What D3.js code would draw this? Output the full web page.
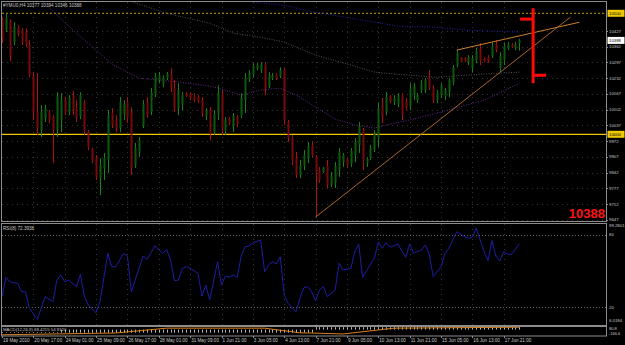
<!DOCTYPE html>
<html>
<head>
<meta charset="utf-8">
<script src="https://cdnjs.cloudflare.com/ajax/libs/d3/7.8.5/d3.min.js"></script>
<style>
  body { margin: 0; background: #000; }
  svg { display: block; }
  text { font-family: "Liberation Sans", Arial, sans-serif; }
</style>
</head>
<body>
<div id="chart"></div>
<script>
// ---- price bars (H4) ----
const opens = [10471,10430,10463,10381,10438,10430,10422,10372,10240,10092,
  10017,10067,10092,10071,10017,10059,10141,10092,10158,10108,
  10075,10133,10009,9939,9902,9819,9861,9894,10088,10059,
  10026,10079,10133,10092,9873,9927,10034,10133,10092,10166,
  10224,10207,10232,10249,10191,10108,10125,10170,10166,10158,
  10154,10141,10075,10100,10009,10079,10166,10017,10063,10034,
  10071,10079,10141,10228,10249,10273,10265,10286,10199,10232,
  10244,10240,10265,10051,9984,9902,9832,9869,9902,9951,
  9906,9852,9844,9869,9791,9799,9852,9885,9898,9877,
  9914,9956,10017,9881,9902,9935,9984,10121,10092,10158,
  10133,10125,10158,10137,10117,10162,10141,10183,10183,10232,
  10191,10141,10162,10158,10174,10216,10286,10319,10315,10298,
  10273,10306,10352,10315,10319,10323,10372,10273,10306,10356,
  10372,10356,10377];
const highs = [10484,10500,10476,10463,10451,10438,10438,10389,10257,10253,
  10121,10121,10100,10079,10174,10170,10154,10162,10178,10141,
  10174,10141,10017,9943,9914,9902,9923,10100,10108,10079,
  10154,10141,10154,10112,9964,9989,10141,10154,10191,10253,
  10257,10244,10257,10273,10224,10211,10174,10174,10174,10170,
  10162,10154,10108,10112,10100,10203,10183,10071,10071,10088,
  10079,10170,10253,10265,10294,10294,10298,10298,10257,10253,
  10253,10277,10273,10059,9997,9927,9894,9935,9968,9968,
  9914,9865,9865,9894,9844,9885,9943,9923,9902,9943,
  9984,10051,10026,9906,9956,10017,10129,10150,10174,10162,
  10162,10170,10170,10150,10211,10211,10170,10224,10232,10265,
  10203,10183,10211,10191,10232,10286,10348,10319,10319,10327,
  10327,10356,10377,10319,10327,10381,10389,10339,10377,10381,
  10377,10381,10394];
const lows = [10377,10422,10302,10368,10405,10368,10360,10236,10059,9997,
  9989,10051,10046,9881,9989,10009,10079,10079,10079,10051,
  10063,9997,9935,9881,9811,9749,9811,9840,10026,10009,
  10009,10059,10046,9832,9861,9906,10026,10067,10079,10154,
  10211,10195,10224,10174,10092,10079,10100,10154,10141,10133,
  10129,10071,10059,9976,9997,10059,9997,9997,10038,10009,
  10030,10067,10088,10216,10236,10265,10253,10162,10191,10224,
  10224,10232,10038,9968,9873,9819,9819,9852,9881,9906,
  9658,9799,9840,9778,9782,9778,9824,9865,9865,9865,
  9885,9923,9852,9865,9894,9927,9947,10046,10079,10129,
  10121,10112,10059,10100,10100,10141,10129,10170,10170,10183,
  10129,10129,10150,10141,10154,10203,10277,10298,10298,10286,
  10257,10294,10286,10298,10294,10315,10339,10257,10286,10348,
  10356,10348,10346];
const closes = [10397,10480,10327,10443,10414,10381,10372,10244,10092,10026,
  10092,10108,10059,10017,10158,10141,10092,10150,10100,10067,
  10162,10017,9947,9894,9824,9873,9902,10079,10038,10026,
  10133,10125,10067,9861,9943,9976,10125,10079,10174,10240,
  10244,10232,10249,10191,10108,10183,10162,10158,10150,10141,
  10137,10088,10100,10001,10084,10174,10026,10059,10046,10075,
  10042,10150,10232,10253,10282,10286,10290,10191,10244,10244,
  10232,10265,10059,9984,9894,9832,9873,9914,9951,9914,
  9844,9811,9861,9791,9828,9869,9927,9914,9873,9931,
  9968,10034,9894,9898,9943,10001,10108,10067,10154,10137,
  10150,10158,10084,10108,10191,10199,10162,10211,10224,10191,
  10141,10170,10199,10183,10224,10277,10339,10302,10302,10319,
  10315,10344,10306,10302,10302,10364,10348,10323,10364,10372,
  10360,10372,10388];

// ---- moving averages (bar index, value) ----
const maPurpleBars = [10,19,24,28,35,45,53,56,61,66,71,76,80,85,90,95,99,104,112,123,132];
const maPurpleVals = [10554,10418,10348,10290,10232,10216,10199,10187,10162,10183,10191,10154,10112,10063,10038,10026,10042,10059,10092,10141,10211];
const maGrayBars = [32,42,53,59,66,72,80,89,95,104,111,123,132];
const maGrayVals = [10554,10500,10459,10418,10401,10381,10327,10286,10257,10244,10236,10249,10257];
const maBlueBars = [58,64,72,80,89,101,110,119,132];
const maBlueVals = [10562,10546,10533,10504,10480,10447,10443,10430,10422];

// ---- drawn objects ----
const levelDashed = 10500;
const levelSolid = 10000;
const supportLine = [[80, 9658], [145, 10484]];
const upperLine = [[116, 10348], [147.3, 10463]];
const projBar = { bar: 135.5, open: 10476, high: 10521, low: 10211, close: 10244 };

// ---- axes ----
const priceTicks = [10427,10362,10297,10232,10167,10102,10037,9972,9907,9842,9777,9712,9647];
const timeBars = [0,8,16,24,32,40,48,56,64,72,80,88,96,104,112,120,128];
const timeLabels = ["19 May 2010","20 May 17:00","24 May 01:00","25 May 09:00","26 May 17:00",
  "28 May 01:00","31 May 09:00","1 Jun 21:00","3 Jun 05:00","4 Jun 13:00","7 Jun 21:00",
  "9 Jun 05:00","10 Jun 13:00","11 Jun 21:00","15 Jun 05:00","16 Jun 13:00","17 Jun 21:00"];

// ---- RSI(8) ----
const rsiBars = [0,1,2,3,4,5,6,7,9,11,13,14,15,16,17,19,20,21,22,24,25,27,28,29,31,32,33,36,37,39,41,42,43,44,45,46,47,48,50,51,52,53,55,56,57,58,59,60,61,62,63,64,66,67,68,69,70,71,72,73,75,76,77,78,79,80,81,82,83,85,86,87,89,90,91,92,95,96,97,98,99,101,103,104,105,107,108,109,110,112,113,114,116,118,119,120,121,123,124,125,126,127,128,129,130,132];
const rsiVals = [28.5,44.6,40.9,40.1,39.6,32.6,32.6,18.9,9.8,28.5,24.4,42.3,46.5,40.9,42.3,36.8,47.1,29.1,21.6,15.3,24.4,64.4,53.3,53.3,64.4,62.2,32.6,62.2,59.5,70.5,64.4,67.7,58.9,41.8,42.3,52,53.3,52,47.9,29.1,38.2,25.8,57.5,38.2,45.6,44.6,46.5,44.6,61.6,69.9,70.5,73.2,75.4,49.2,54.8,57.5,55.6,61.6,29.9,23,16.1,27.2,36,36.8,32.6,25.2,34.1,36.8,28.5,34.1,56.2,50.6,52,65.8,72.1,44.6,60.3,74,68.6,73.2,69.4,72.1,61.1,72.1,64.4,67.2,71.3,63.9,45.1,53.3,64.4,68.6,82.3,78.2,76.9,77.7,85.1,65.8,58.3,74.9,62.2,58.1,65.8,63.6,63.6,72.3938];
const rsiLabels = ["99.2801", "80", "20", "6.0184"];

// ---- MACD(12,26,9) ----
const macdHist = [-95,-95,-95,-95,-95,-95,-95,-95,-95,-95,-95,-95,-95,-95,-95,-95,-95,-95,-95,-95,
  -95,-95,-95,-95,-95,-95,-95,-95,-95,-95,-95,-95,-95,-95,-95,-95,-95,-95,-95,-95,
  -95,-95,-95,-95,-95,-95,-95,-95,-95,-95,-95,-95,-95,-95,-95,-95,-95,-95,-95,-95,
  -95,-95,-95,-95,-95,-95,-95,-95,-95,-95,-95,-95,-95,-95,-95,-95,-95,-95,-95,-95,
  75,75,75,75,75,75,75,75,75,75,75,75,75,75,75,75,75,75,75,75,
  75,75,75,75,75,75,75,75,75,75,75,75,75,75,75,75,75,75,75,75,
  75,75,75,75,75,75,75,75,75,75,75,75,75];
const signalBars = [0,29,42,67,76,79,87,100,132];
const signalVals = [-160,-105,45,45,-100,-105,-135,45,75];

const W = 625, H = 345;

const svg = d3.select("#chart").append("svg")
  .attr("width", W).attr("height", H);
svg.append("rect").attr("width", W).attr("height", H).attr("fill", "#000");

const x = d3.scaleLinear().domain([0, 132]).range([2, 519.4]);
const y = d3.scaleLinear().domain([10000, 10500]).range([134.3, 13.3]);
const yRsi = d3.scaleLinear().domain([20, 80]).range([307, 234.5]);
const yMacd = d3.scaleLinear().domain([-166.6, 80.8]).range([335, 327]);

const defs = svg.append("defs");
[["clipMain", 2, 2, 604, 219], ["clipRsi", 2, 224, 604, 101], ["clipMacd", 2, 327, 604, 9]]
  .forEach(([id, cx, cy, cw, ch]) => {
    defs.append("clipPath").attr("id", id)
      .append("rect").attr("x", cx).attr("y", cy).attr("width", cw).attr("height", ch);
  });

const gridColor = "#343434";
const textColor = "#c8c8c8";

// grid
const grid = svg.append("g").attr("stroke", gridColor).attr("stroke-dasharray", "1,4");
grid.selectAll(".hg").data(priceTicks).join("line")
  .attr("x1", 2).attr("x2", 606)
  .attr("y1", (d) => Math.round(y(d)) + 0.5).attr("y2", (d) => Math.round(y(d)) + 0.5);
[[2, 221], [224, 325]].forEach(([t, b]) => {
  grid.append("g").selectAll("line").data(timeBars.slice(1)).join("line")
    .attr("x1", (d) => Math.round(x(d)) + 0.5).attr("x2", (d) => Math.round(x(d)) + 0.5)
    .attr("y1", t).attr("y2", b);
});

const mainG = svg.append("g").attr("clip-path", "url(#clipMain)");

// levels
mainG.append("line").attr("x1", 2).attr("x2", 606)
  .attr("y1", y(levelDashed)).attr("y2", y(levelDashed))
  .attr("stroke", "#b8a020").attr("stroke-dasharray", "2,2");
mainG.append("line").attr("x1", 2).attr("x2", 606)
  .attr("y1", y(levelSolid)).attr("y2", y(levelSolid))
  .attr("stroke", "#f0c800").attr("stroke-width", 1.3);

// moving averages
const maLine = d3.line().x((d) => x(d[0])).y((d) => y(d[1]));
[[maPurpleBars, maPurpleVals, "#642a8a"], [maGrayBars, maGrayVals, "#555555"], [maBlueBars, maBlueVals, "#1e1e9c"]]
  .forEach(([bars, vals, col]) => {
    mainG.append("path")
      .datum(bars.map((b, i) => [b, vals[i]]))
      .attr("d", maLine)
      .attr("fill", "none").attr("stroke", col)
      .attr("stroke-width", 1).attr("stroke-dasharray", "1,1.5");
  });

// candles
const bars = d3.range(opens.length).map((i) => ({
  i, o: opens[i], h: highs[i], l: lows[i], c: closes[i]
}));
const candle = mainG.append("g").selectAll("g").data(bars).join("g");
candle.append("line")
  .attr("x1", (d) => Math.round(x(d.i)) + 0.5).attr("x2", (d) => Math.round(x(d.i)) + 0.5)
  .attr("y1", (d) => y(d.h)).attr("y2", (d) => y(d.l))
  .attr("stroke", (d) => d.c >= d.o ? "#168416" : "#b01010");
candle.append("rect")
  .attr("x", (d) => Math.round(x(d.i)) - 0.5)
  .attr("width", 2)
  .attr("y", (d) => y(Math.max(d.o, d.c)))
  .attr("height", (d) => Math.max(1, Math.abs(y(d.o) - y(d.c))))
  .attr("fill", (d) => d.c >= d.o ? "#0c5a0c" : "#780a0a");

// trend lines
mainG.append("line")
  .attr("x1", x(supportLine[0][0])).attr("y1", y(supportLine[0][1]))
  .attr("x2", x(supportLine[1][0])).attr("y2", y(supportLine[1][1]))
  .attr("stroke", "#a8642a").attr("stroke-width", 1);
mainG.append("line")
  .attr("x1", x(upperLine[0][0])).attr("y1", y(upperLine[0][1]))
  .attr("x2", x(upperLine[1][0])).attr("y2", y(upperLine[1][1]))
  .attr("stroke", "#cc7e2c").attr("stroke-width", 1);

// projected red bar
const px = x(projBar.bar);
const proj = mainG.append("g").attr("stroke", "#ff0a0a").attr("stroke-width", 3);
proj.append("line").attr("x1", px).attr("x2", px).attr("y1", y(projBar.high)).attr("y2", y(projBar.low));
proj.append("line").attr("x1", px - 13).attr("x2", px).attr("y1", y(projBar.open)).attr("y2", y(projBar.open));
proj.append("line").attr("x1", px).attr("x2", px + 13).attr("y1", y(projBar.close)).attr("y2", y(projBar.close));

// big red price
svg.append("text").attr("x", 605).attr("y", 218)
  .attr("text-anchor", "end").attr("font-size", 13).attr("font-weight", "bold")
  .attr("fill", "#ff1414").text(closes[closes.length - 1]);

// title
svg.append("text").attr("x", 3).attr("y", 7).attr("font-size", 4.6).attr("fill", textColor)
  .text(`#YMU0,H4  ${opens[132]} ${highs[132]} ${lows[132]} ${closes[132]}`);

// price axis
const axisR = svg.append("g");
axisR.selectAll("line").data(priceTicks).join("line")
  .attr("x1", 606).attr("x2", 608)
  .attr("y1", (d) => Math.round(y(d)) + 0.5).attr("y2", (d) => Math.round(y(d)) + 0.5)
  .attr("stroke", "#909090");
axisR.selectAll("text").data(priceTicks).join("text")
  .attr("x", 609).attr("y", (d) => y(d) + 1.6)
  .attr("font-size", 4.3).attr("fill", textColor).text((d) => d);

function priceBox(v, bg) {
  const yy = y(v);
  svg.append("rect").attr("x", 607.5).attr("y", yy - 3.5).attr("width", 17).attr("height", 7).attr("fill", bg);
  svg.append("text").attr("x", 609).attr("y", yy + 1.6).attr("font-size", 4.3).attr("fill", "#000").text(v);
}
priceBox(levelDashed, "#f0c800");
priceBox(levelSolid, "#f0c800");
priceBox(closes[closes.length - 1], "#ffffff");

// RSI panel
const rsiG = svg.append("g").attr("clip-path", "url(#clipRsi)");
[80, 20].forEach((lv) => {
  rsiG.append("line").attr("x1", 2).attr("x2", 606)
    .attr("y1", Math.round(yRsi(lv)) + 0.5).attr("y2", Math.round(yRsi(lv)) + 0.5)
    .attr("stroke", "#6a6a6a").attr("stroke-dasharray", "1,2");
});
rsiG.append("path")
  .datum(rsiBars.map((b, i) => [b, rsiVals[i]]))
  .attr("d", d3.line().x((d) => x(d[0])).y((d) => yRsi(d[1])))
  .attr("fill", "none").attr("stroke", "#1e1ea4").attr("stroke-width", 1);
svg.append("text").attr("x", 3).attr("y", 229.5).attr("font-size", 4.6).attr("fill", textColor)
  .text(`RSI(8) ${rsiVals[rsiVals.length - 1].toFixed(4)}`);
[227, yRsi(80) + 1.6, yRsi(20) + 1.6, 322].forEach((yy, i) => {
  svg.append("text").attr("x", 609).attr("y", yy).attr("font-size", 4.3).attr("fill", textColor).text(rsiLabels[i]);
});

// MACD panel
const macdG = svg.append("g").attr("clip-path", "url(#clipMacd)");
macdG.append("g").selectAll("line").data(macdHist).join("line")
  .attr("x1", (d, i) => Math.round(x(i)) + 0.5).attr("x2", (d, i) => Math.round(x(i)) + 0.5)
  .attr("y1", yMacd(0)).attr("y2", (d) => yMacd(d))
  .attr("stroke", "#b4b4b4");
macdG.append("path")
  .datum(signalBars.map((b, i) => [b, signalVals[i]]))
  .attr("d", d3.line().x((d) => x(d[0])).y((d) => yMacd(d[1])))
  .attr("fill", "none").attr("stroke", "#d8801c").attr("stroke-width", 1);
svg.append("rect").attr("x", 2).attr("y", 327).attr("width", 56).attr("height", 5).attr("fill", "#000");
svg.append("text").attr("x", 3).attr("y", 331).attr("font-size", 4.3).attr("fill", textColor)
  .text("MACD(12,26,9) 68.4215 54.9120");
[["80.8", 330], ["-166.6", 334.5]].forEach(([t, yy]) => {
  svg.append("text").attr("x", 609).attr("y", yy).attr("font-size", 4).attr("fill", textColor).text(t);
});

// time axis
const tAxis = svg.append("g");
tAxis.selectAll("line").data(timeBars).join("line")
  .attr("x1", (d) => Math.round(x(d)) + 0.5).attr("x2", (d) => Math.round(x(d)) + 0.5)
  .attr("y1", 336).attr("y2", 338).attr("stroke", "#909090");
tAxis.selectAll("text").data(timeBars).join("text")
  .attr("x", (d) => x(d) + 1).attr("y", 342)
  .attr("font-size", 4.6).attr("fill", textColor)
  .text((d, i) => timeLabels[i]);

// panel frames
const frame = svg.append("g").attr("fill", "none").attr("stroke", "#8c8c8c");
frame.append("rect").attr("x", 1.5).attr("y", 1.5).attr("width", 605).attr("height", 220);
frame.append("rect").attr("x", 1.5).attr("y", 223.5).attr("width", 605).attr("height", 102);
frame.append("rect").attr("x", 1.5).attr("y", 326.5).attr("width", 605).attr("height", 9.5);
</script>
</body>
</html>
